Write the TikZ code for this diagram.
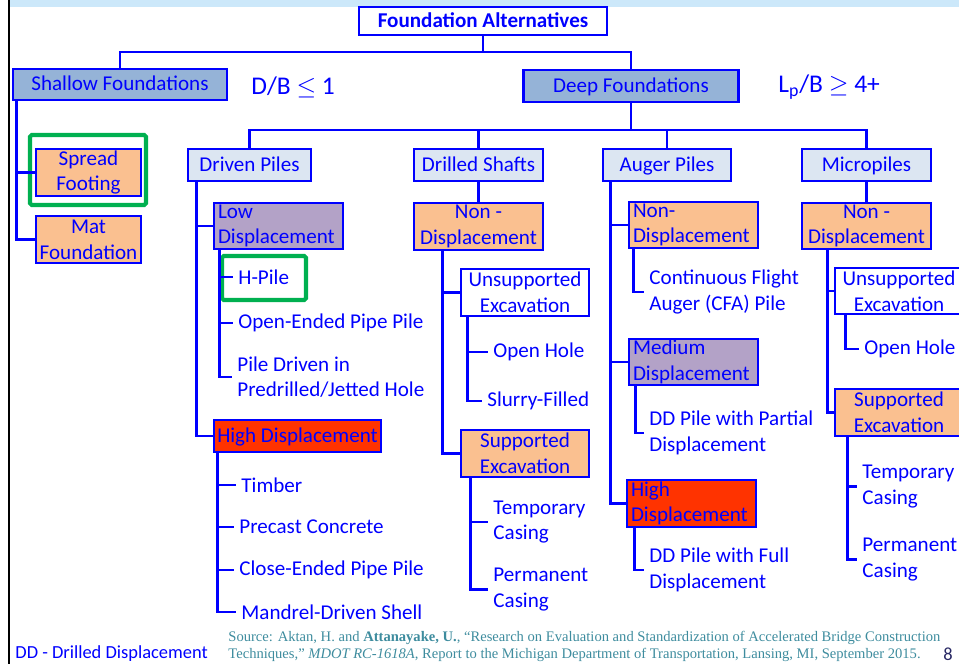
\documentclass[tikz,border=0pt]{standalone}
\usepackage{fontspec}
\usepackage{tikz}
\setmainfont{Carlito}
\newfontfamily\srcfamily{Liberation Serif}
\newcommand{\boxfont}{\fontsize{12}{14.6}\selectfont}
\newcommand{\ratiofont}{\fontsize{14.5}{17}\selectfont}
\newcommand{\notefont}{\fontsize{10.5}{12.6}\selectfont}
\newcommand{\srcfont}{\srcfamily\fontsize{8.3}{9.7}\selectfont}
\definecolor{fblue}{RGB}{0,0,255}
\definecolor{steel}{RGB}{149,179,215}
\definecolor{pale}{RGB}{220,230,242}
\definecolor{peach}{RGB}{250,192,144}
\definecolor{lilac}{RGB}{179,162,199}
\definecolor{hot}{RGB}{255,51,0}
\definecolor{leafgreen}{RGB}{0,176,80}
\definecolor{band}{RGB}{204,232,250}
\definecolor{srcteal}{RGB}{62,140,158}
\definecolor{navy}{RGB}{40,40,100}

\begin{document}
\begin{tikzpicture}[x=0.02cm, y=-0.02cm, fblue, line width=1.6pt,
	box/.style={draw=fblue, inner sep=0pt, align=center, font=\boxfont},
	oneline/.style={text height=9pt, text depth=2pt},
	lbox/.style={box, align=left, inner xsep=0.08cm},
	leaf/.style={anchor=west, inner xsep=0.08cm, inner ysep=0.04cm, align=left, font=\boxfont},
	hilite/.style={draw=leafgreen, line width=2.3pt, rounded corners=1pt}]
	\useasboundingbox (0,0) rectangle (959,664);
	\fill[band] (10,0) rectangle (959,7);
	\draw[black, line width=0.04cm] (9,0) -- (9,664);

	\node[box, oneline, fill=white, font=\boxfont\bfseries, minimum width=4.96cm, minimum height=0.56cm] (fa) at (483,21) {Foundation Alternatives};
	\node[box, oneline, fill=steel, minimum width=4.28cm, minimum height=0.62cm] (sh) at (120,84.5) {Shallow Foundations};
	\node[box, oneline, fill=steel, minimum width=4.30cm, minimum height=0.64cm] (df) at (631,86) {Deep Foundations};
	\node[anchor=west, inner sep=0pt, font=\ratiofont] (db) at (250,87) {D/B $\leq$ 1};
	\node[anchor=west, inner sep=0pt, font=\ratiofont] (lp) at (777,87) {L\textsubscript{p}/B $\geq$ 4+};

	\node[box, oneline, fill=pale, minimum width=2.46cm, minimum height=0.64cm] (dp) at (249.5,165) {Driven Piles};
	\node[box, oneline, fill=pale, minimum width=2.58cm, minimum height=0.64cm] (ds) at (478.5,165) {Drilled Shafts};
	\node[box, oneline, fill=pale, minimum width=2.56cm, minimum height=0.64cm] (ap) at (667,165) {Auger Piles};
	\node[box, oneline, fill=pale, minimum width=2.58cm, minimum height=0.64cm] (mp) at (866.5,165) {Micropiles};

	\node[box, fill=peach, minimum width=2.10cm, minimum height=0.94cm] (sp) at (88.5,172.5) {Spread\\Footing};
	\node[box, fill=peach, minimum width=2.10cm, minimum height=0.94cm] (mat) at (88.5,239.5) {Mat\\Foundation};
	\draw[hilite] (30,135) rectangle (146,205);

	\node[lbox, fill=lilac, minimum width=2.58cm, minimum height=0.92cm, text width=2.42cm] (ld) at (278.5,226) {Low\\Displacement};
	\node[leaf] (hp) at (233,277) {H-Pile};
	\node[leaf] (oe) at (233,323) {Open-Ended Pipe Pile};
	\node[leaf] (pd) at (232,377) {Pile Driven in\\Predrilled/Jetted Hole};
	\draw[hilite] (222,256) rectangle (306,300);
	\node[box, oneline, fill=hot, minimum width=3.34cm, minimum height=0.64cm] (hd) at (297.5,436) {High Displacement};
	\node[leaf] (tb) at (236,485) {Timber};
	\node[leaf] (pc) at (234,527) {Precast Concrete};
	\node[leaf] (ce) at (234,570) {Close-Ended Pipe Pile};
	\node[leaf] (md) at (236,612) {Mandrel-Driven Shell};

	\node[box, fill=peach, minimum width=2.58cm, minimum height=0.94cm] (dsn) at (478.5,226.5) {Non -\\Displacement};
	\node[box, fill=white, minimum width=2.56cm, minimum height=0.94cm] (ue) at (525,292.5) {Unsupported\\Excavation};
	\node[leaf] (oh1) at (488,352) {Open Hole};
	\node[leaf] (sl) at (482,401) {Slurry-Filled};
	\node[box, fill=peach, minimum width=2.56cm, minimum height=0.94cm] (se) at (525,453.5) {Supported\\Excavation};
	\node[leaf] (tc1) at (488,522) {Temporary\\Casing};
	\node[leaf] (pm1) at (488,589.5) {Permanent\\Casing};

	\node[lbox, fill=peach, minimum width=2.58cm, minimum height=0.92cm, text width=2.42cm] (an) at (693.5,225) {Non-\\Displacement};
	\node[leaf] (cf) at (644,292) {Continuous Flight\\Auger (CFA) Pile};
	\node[lbox, fill=lilac, minimum width=2.58cm, minimum height=0.92cm, text width=2.42cm] (mdp) at (693.5,362) {Medium\\Displacement};
	\node[leaf] (pp) at (644,433) {DD Pile with Partial\\Displacement};
	\node[lbox, fill=hot, minimum width=2.58cm, minimum height=0.94cm, text width=2.42cm] (ah) at (691.5,503.5) {High\\Displacement};
	\node[leaf] (fp) at (644,570) {DD Pile with Full\\Displacement};

	\node[box, fill=peach, minimum width=2.58cm, minimum height=0.92cm] (mn) at (866.5,226) {Non -\\Displacement};
	\node[box, fill=white, minimum width=2.56cm, minimum height=0.92cm] (mu) at (899,291) {Unsupported\\Excavation};
	\node[leaf] (oh2) at (859,349) {Open Hole};
	\node[box, fill=peach, minimum width=2.56cm, minimum height=0.94cm] (ms) at (899,412.5) {Supported\\Excavation};
	\node[leaf] (tc2) at (857,486.5) {Temporary\\Casing};
	\node[leaf] (pm2) at (857,559.5) {Permanent\\Casing};

	\coordinate (b0) at (483,52);
	\coordinate (b1) at (631,130);
	\draw (fa) -- (b0) -| (sh);
	\draw (b0) -| (df);
	\draw (df) -- (b1);
	\draw (dp) |- (b1) -| (mp);
	\draw (ds) -- (ds |- b1);
	\draw (ap) -- (ap |- b1);

	\coordinate (sv) at ([xshift=0.1cm]sh.south west);
	\draw (sv) |- (sp);
	\draw (sv) |- (mat);

	\coordinate (dv) at ([xshift=0.2cm]dp.south west);
	\draw (dv) |- (ld);
	\draw (dv) |- (hd);
	\coordinate (lv) at ([xshift=0.14cm]ld.south west);
	\draw (lv) |- (hp);
	\draw (lv) |- (oe);
	\draw (lv) |- (pd);
	\coordinate (hv) at ([xshift=0.1cm]hd.south west);
	\draw (hv) |- (tb);
	\draw (hv) |- (pc);
	\draw (hv) |- (ce);
	\draw (hv) |- (md);

	\draw (ds) -- (dsn);
	\coordinate (dsv) at ([xshift=0.6cm]dsn.south west);
	\draw (dsv) |- (ue);
	\draw (dsv) |- (se);
	\coordinate (uv) at ([xshift=0.16cm]ue.south west);
	\draw (uv) |- (oh1);
	\draw (uv) |- (sl);
	\coordinate (sev) at ([xshift=0.22cm]se.south west);
	\draw (sev) |- (tc1);
	\draw (sev) |- (pm1);

	\coordinate (av) at ([xshift=0.18cm]ap.south west);
	\draw (av) |- (an);
	\draw (av) |- (mdp);
	\draw (av) |- (ah);
	\coordinate (anv) at ([xshift=0.12cm]an.south west);
	\draw (anv) |- (cf);
	\coordinate (mdv) at ([xshift=0.16cm]mdp.south west);
	\draw (mdv) |- (pp);
	\coordinate (ahv) at ([xshift=0.18cm]ah.south west);
	\draw (ahv) |- (fp);

	\draw (mp) -- (mn);
	\coordinate (mnv) at ([xshift=0.54cm]mn.south west);
	\draw (mnv) |- (mu);
	\draw (mnv) |- (ms);
	\coordinate (muv) at ([xshift=0.24cm]mu.south west);
	\draw (muv) |- (oh2);
	\coordinate (msv) at ([xshift=0.28cm]ms.south west);
	\draw (msv) |- (tc2);
	\draw (msv) |- (pm2);

	\node[anchor=west, inner sep=0pt, font=\notefont] (dd) at (14,654) {DD - Drilled Displacement};
	\node[anchor=west, inner sep=0pt, align=left, font=\srcfont, text=srcteal] (src) at (227,646) {Source: Aktan, H. and \textbf{Attanayake, U.}, “Research on Evaluation and Standardization of Accelerated Bridge Construction\\Techniques,” \textit{MDOT RC-1618A}, Report to the Michigan Department of Transportation, Lansing, MI, September 2015.};
	\node[anchor=west, inner sep=0pt, font=\notefont, text=navy] (pg) at (942,654) {8};
\end{tikzpicture}
\end{document}
